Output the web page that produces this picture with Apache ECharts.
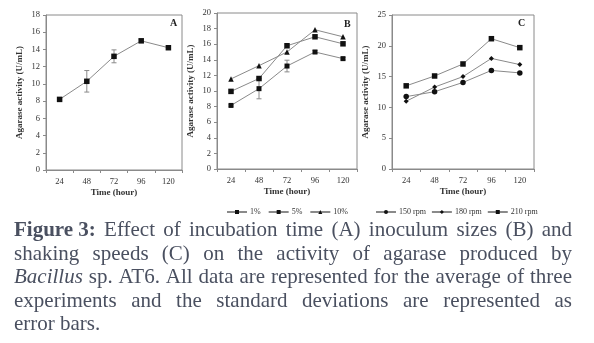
<!DOCTYPE html>
<html><head><meta charset="utf-8">
<script src="https://cdn.jsdelivr.net/npm/echarts@6/dist/echarts.min.js"></script>
<style>html,body{margin:0;padding:0;background:#fff}#c{width:594px;height:343px}</style>
</head><body><div id="c"></div><script>
// ---- data ----
const hours = ['24', '48', '72', '96', '120'];
const timeA = [8.2, 10.3, 13.2, 15.0, 14.2];
const timeAErr = [0.1, 1.25, 0.75, 0.2, 0.15];
const inoc1 = [8.15, 10.3, 13.2, 15.0, 14.15];
const inoc1Err = [0.1, 1.3, 0.75, 0.2, 0.15];
const inoc5 = [9.95, 11.6, 15.8, 16.95, 16.05];
const inoc10 = [11.55, 13.25, 15.0, 17.85, 16.95];
const inocNames = ['1%', '5%', '10%'];
const rpm150 = [11.75, 12.55, 14.05, 16.0, 15.6];
const rpm180 = [11.0, 13.3, 15.0, 17.95, 16.95];
const rpm210 = [13.5, 15.1, 17.05, 21.15, 19.7];
const speedNames = ['150 rpm', '180 rpm', '210 rpm'];
const panelLabels = ['A', 'B', 'C'];
const yMax = [18, 20, 25];
const yStep = [2, 2, 5];
const xTitle = 'Time (hour)';
const yTitle = 'Agarase activity (U/mL)';
const captionLines = [
  [['Figure 3:', 'b'], 'Effect', 'of', 'incubation', 'time', '(A)', 'inoculum', 'sizes', '(B)', 'and'],
  ['shaking', 'speeds', '(C)', 'on', 'the', 'activity', 'of', 'agarase', 'produced', 'by'],
  [['Bacillus', 'i'], 'sp.', 'AT6.', 'All', 'data', 'are', 'represented', 'for', 'the', 'average', 'of', 'three'],
  ['experiments', 'and', 'the', 'standard', 'deviations', 'are', 'represented', 'as'],
  ['error', 'bars.']
];

// ---- chart ----
const SERIF = '"Liberation Serif", "Times New Roman", serif';
const LINE = '#8a8a8a';
const AXC = '#8a8a8a';
const TXT = '#333';
const grids = [
  {left: 46, top: 15, width: 136, height: 155},
  {left: 217, top: 13, width: 140, height: 156},
  {left: 392, top: 15, width: 142, height: 154}
];

const xAxes = grids.map((g, i) => ({
  type: 'category', gridIndex: i, data: hours, boundaryGap: true,
  axisLine: {lineStyle: {color: AXC}}, axisTick: {show: true, length: 3, lineStyle: {color: AXC}},
  axisLabel: {fontFamily: SERIF, fontSize: 8.5, color: TXT, margin: 7},
  name: xTitle, nameLocation: 'middle', nameGap: 18,
  nameTextStyle: {fontFamily: SERIF, fontSize: 9, fontWeight: 'bold', color: TXT}
}));
const yAxes = grids.map((g, i) => ({
  type: 'value', gridIndex: i, min: 0, max: yMax[i], interval: yStep[i],
  splitLine: {show: false},
  axisLine: {show: true, lineStyle: {color: AXC}}, axisTick: {show: true, length: 3, lineStyle: {color: AXC}},
  axisLabel: {fontFamily: SERIF, fontSize: 8.5, color: TXT, margin: 6},
  name: yTitle, nameLocation: 'middle', nameGap: 22,
  nameTextStyle: {fontFamily: SERIF, fontSize: 9, fontWeight: 'bold', color: TXT}
}));

function lineSeries(name, gi, data, symbol, size) {
  return {
    name: name, type: 'line', xAxisIndex: gi, yAxisIndex: gi, data: data,
    symbol: symbol, symbolSize: size, showSymbol: true,
    lineStyle: {color: LINE, width: 1}, itemStyle: {color: '#111', borderWidth: 0},
    emphasis: {disabled: true}, z: 3, animation: false
  };
}
function errSeries(gi, vals, errs) {
  return {
    type: 'custom', xAxisIndex: gi, yAxisIndex: gi, z: 2, animation: false,
    data: vals.map((v, i) => [i, v - errs[i], v + errs[i]]),
    renderItem: (params, api) => {
      const lo = api.coord([api.value(0), api.value(1)]);
      const hi = api.coord([api.value(0), api.value(2)]);
      const w = 2.5, st = {stroke: LINE, lineWidth: 1};
      return {type: 'group', children: [
        {type: 'line', shape: {x1: lo[0], y1: lo[1], x2: hi[0], y2: hi[1]}, style: st},
        {type: 'line', shape: {x1: lo[0] - w, y1: lo[1], x2: lo[0] + w, y2: lo[1]}, style: st},
        {type: 'line', shape: {x1: hi[0] - w, y1: hi[1], x2: hi[0] + w, y2: hi[1]}, style: st}
      ]};
    }
  };
}

const series = [
  errSeries(0, timeA, timeAErr),
  lineSeries('A', 0, timeA, 'rect', 5.5),
  errSeries(1, inoc1, inoc1Err),
  lineSeries(inocNames[0], 1, inoc1, 'rect', 5),
  lineSeries(inocNames[1], 1, inoc5, 'rect', 5.5),
  lineSeries(inocNames[2], 1, inoc10, 'triangle', 5.5),
  lineSeries(speedNames[0], 2, rpm150, 'circle', 5.5),
  lineSeries(speedNames[1], 2, rpm180, 'diamond', 5),
  lineSeries(speedNames[2], 2, rpm210, 'rect', 5.5)
];

// caption layout (justified)
const CAP_COLOR = '#4a5060';
const CAP_LEFT = 14, CAP_WIDTH = 558;
const capY = [233, 256.5, 280, 303.5, 327];
const cvs = document.createElement('canvas').getContext('2d');
function fontStr(style, size) {
  return (style === 'i' ? 'italic ' : '') + (style === 'b' ? 'bold ' : '') + size + 'px ' + SERIF;
}
function wordOf(w) { return Array.isArray(w) ? w : [w, 'n']; }
function measure(w, size) { const [t, s] = wordOf(w); cvs.font = fontStr(s, size); return cvs.measureText(t).width; }
let capSize = 20;
(function () {
  const ln = captionLines[2];
  cvs.font = fontStr('n', 20);
  const sp = cvs.measureText(' ').width;
  let tot = ln.reduce((a, w) => a + measure(w, 20), 0) + sp * (ln.length - 1);
  capSize = Math.min(21, Math.max(16, 20 * (CAP_WIDTH - 4) / tot));
})();
const graphics = [];
captionLines.forEach((ln, li) => {
  const widths = ln.map(w => measure(w, capSize));
  const total = widths.reduce((a, b) => a + b, 0);
  cvs.font = fontStr('n', capSize);
  const natural = cvs.measureText(' ').width;
  const gap = li === captionLines.length - 1 ? natural : (CAP_WIDTH - total) / (ln.length - 1);
  let x = CAP_LEFT;
  ln.forEach((w, wi) => {
    const [t, s] = wordOf(w);
    graphics.push({type: 'text', left: x, top: capY[li] - capSize * 0.6, silent: true,
      style: {text: t, font: fontStr(s, capSize), fill: CAP_COLOR}});
    x += widths[wi] + gap;
  });
});
const labelPos = [[170, 18], [344, 19], [518, 18]];
panelLabels.forEach((p, i) => {
  graphics.push({type: 'text', left: labelPos[i][0], top: labelPos[i][1], silent: true,
    style: {text: p, font: 'bold 10px ' + SERIF, fill: '#222'}});
});

const chart = echarts.init(document.getElementById('c'), null, {renderer: 'canvas'});
chart.setOption({
  animation: false,
  backgroundColor: '#fff',
  grid: grids.map(g => Object.assign({show: true, borderColor: AXC, borderWidth: 1, containLabel: false}, g)),
  xAxis: xAxes,
  yAxis: yAxes,
  legend: [
    {data: inocNames, left: 221, top: 203, itemWidth: 20, itemHeight: 5, itemGap: 7,
      textStyle: {fontFamily: SERIF, fontSize: 8, color: TXT, padding: [0, 0, 0, -2]}, selectedMode: false},
    {data: speedNames, left: 370, top: 203, itemWidth: 20, itemHeight: 5, itemGap: 5,
      textStyle: {fontFamily: SERIF, fontSize: 8, color: TXT, padding: [0, 0, 0, -2]}, selectedMode: false}
  ],
  series: series,
  graphic: graphics
});
</script></body></html>
